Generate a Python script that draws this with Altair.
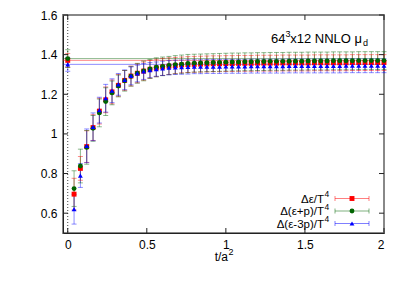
import altair as alt
import pandas as pd

# flow time t/a^2
t = [0.00, 0.04, 0.08, 0.12, 0.16, 0.20, 0.24, 0.28, 0.32, 0.36,
     0.40, 0.44, 0.48, 0.52, 0.56, 0.60, 0.64, 0.68, 0.72, 0.76,
     0.80, 0.84, 0.88, 0.92, 0.96, 1.00, 1.04, 1.08, 1.12, 1.16,
     1.20, 1.24, 1.28, 1.32, 1.36, 1.40, 1.44, 1.48, 1.52, 1.56,
     1.60, 1.64, 1.68, 1.72, 1.76, 1.80, 1.84, 1.88, 1.92, 1.96, 2.00]

# Delta eps / T^4
eps = [1.371, 0.696, 0.826, 0.936, 1.032, 1.115, 1.172, 1.212, 1.245, 1.270,
       1.292, 1.306, 1.317, 1.326, 1.333, 1.338, 1.342, 1.345, 1.348, 1.350,
       1.351, 1.352, 1.353, 1.354, 1.354, 1.355, 1.355, 1.356, 1.356, 1.356,
       1.357, 1.357, 1.357, 1.357, 1.358, 1.358, 1.358, 1.358, 1.358, 1.359,
       1.359, 1.359, 1.359, 1.359, 1.359, 1.360, 1.360, 1.360, 1.360, 1.360, 1.360]
eps_err = [0.035, 0.080, 0.060, 0.080, 0.065, 0.065, 0.065, 0.060, 0.055, 0.050,
           0.050, 0.048, 0.046, 0.045, 0.044, 0.043, 0.042, 0.041, 0.040, 0.040,
           0.040, 0.040, 0.040, 0.040, 0.040, 0.040, 0.040, 0.040, 0.040, 0.040,
           0.040, 0.040, 0.040, 0.040, 0.040, 0.040, 0.040, 0.040, 0.040, 0.040,
           0.040, 0.040, 0.040, 0.040, 0.040, 0.040, 0.040, 0.040, 0.040, 0.040, 0.040]

# Delta (eps+p) / T^4
epp = [1.380, 0.724, 0.838, 0.932, 1.028, 1.106, 1.163, 1.207, 1.242, 1.268,
       1.291, 1.306, 1.318, 1.328, 1.336, 1.341, 1.345, 1.349, 1.352, 1.355,
       1.357, 1.358, 1.359, 1.360, 1.361, 1.362, 1.363, 1.363, 1.364, 1.364,
       1.365, 1.365, 1.366, 1.366, 1.366, 1.367, 1.367, 1.367, 1.368, 1.368,
       1.368, 1.368, 1.369, 1.369, 1.369, 1.369, 1.370, 1.370, 1.370, 1.370, 1.370]
epp_err = [0.045, 0.090, 0.085, 0.085, 0.065, 0.070, 0.070, 0.060, 0.055, 0.052,
           0.050, 0.050, 0.050, 0.048, 0.048, 0.047, 0.046, 0.046, 0.046, 0.046,
           0.045, 0.045, 0.045, 0.045, 0.045, 0.045, 0.045, 0.045, 0.045, 0.045,
           0.045, 0.045, 0.045, 0.045, 0.045, 0.045, 0.045, 0.045, 0.045, 0.045,
           0.045, 0.045, 0.045, 0.045, 0.045, 0.045, 0.045, 0.045, 0.045, 0.045, 0.045]

# Delta (eps-3p) / T^4
em3p = [1.351, 0.620, 0.790, 0.940, 1.036, 1.120, 1.180, 1.218, 1.250, 1.273,
        1.293, 1.305, 1.315, 1.322, 1.327, 1.331, 1.334, 1.336, 1.337, 1.338,
        1.339, 1.339, 1.340, 1.340, 1.340, 1.341, 1.341, 1.341, 1.341, 1.342,
        1.342, 1.342, 1.342, 1.342, 1.342, 1.343, 1.343, 1.343, 1.343, 1.343,
        1.343, 1.343, 1.343, 1.343, 1.344, 1.344, 1.344, 1.344, 1.344, 1.344, 1.344]
em3p_err = [0.035, 0.075, 0.060, 0.085, 0.070, 0.065, 0.070, 0.060, 0.055, 0.050,
            0.045, 0.042, 0.040, 0.038, 0.036, 0.036, 0.036, 0.036, 0.036, 0.036,
            0.035, 0.035, 0.035, 0.035, 0.035, 0.035, 0.035, 0.035, 0.035, 0.035,
            0.035, 0.035, 0.035, 0.035, 0.035, 0.035, 0.035, 0.035, 0.035, 0.035,
            0.035, 0.035, 0.035, 0.035, 0.035, 0.035, 0.035, 0.035, 0.035, 0.035, 0.035]

names = ["Δε/T⁴", "Δ(ε+p)/T⁴", "Δ(ε-3p)/T⁴"]
legend_base = ["Δε/T", "Δ(ε+p)/T", "Δ(ε-3p)/T"]
colors = ["#ff0000", "#006400", "#0000ff"]
shapes = ["square", "circle", "triangle-up"]
reference = [1.371, 1.380, 1.351]

x_ticks = [0, 0.5, 1, 1.5, 2]
y_ticks = [0.6, 0.8, 1.0, 1.2, 1.4, 1.6]

rows = []
for k, (vals, errs) in enumerate([(eps, eps_err), (epp, epp_err), (em3p, em3p_err)]):
    for ti, v, e in zip(t, vals, errs):
        rows.append({"series": names[k], "k": k, "t": ti, "v": v, "lo": v - e, "hi": v + e})
df = pd.DataFrame(rows)
ref_df = pd.DataFrame({"series": names, "c": reference})

W, H = 321, 218
xs = alt.Scale(domain=[-0.03, 2], nice=False, zero=False)
ys = alt.Scale(domain=[0.5, 1.6], nice=False, zero=False)
col = alt.Scale(domain=names, range=colors)
shp = alt.Scale(domain=names, range=shapes)

x_axis = alt.Axis(values=x_ticks, format=".1~f", grid=False, tickSize=0, labelPadding=6,
                  title=None, labelFontSize=12, domainColor="#222", labelColor="#000")
y_axis = alt.Axis(values=y_ticks, format=".1~f", grid=False, tickSize=0, labelPadding=6,
                  title=None, labelFontSize=12, domainColor="#222", labelColor="#000")

X = alt.X("t:Q", scale=xs, axis=x_axis)
C = alt.Color("series:N", scale=col, legend=None)


def txt(s, x, y, size, align="left", baseline="alphabetic"):
    return alt.Chart(pd.DataFrame({"s": [s]})).mark_text(
        align=align, baseline=baseline, fontSize=size, color="#000").encode(
        text="s:N", x=alt.value(x), y=alt.value(y))


refl = alt.Chart(ref_df).mark_rule(strokeWidth=1, opacity=0.45).encode(
    y=alt.Y("c:Q", scale=ys, axis=y_axis), color=C)

vline = alt.Chart(pd.DataFrame({"z": [0]})).mark_rule(
    strokeDash=[1, 2], color="#444", strokeWidth=1).encode(x=alt.X("z:Q", scale=xs, axis=x_axis))

err = alt.Chart(df).mark_rule(strokeWidth=1, opacity=0.45).encode(
    x=X, y=alt.Y("lo:Q", scale=ys, axis=y_axis), y2="hi:Q", color=C)
cap_lo = alt.Chart(df).mark_tick(size=5, thickness=1, orient="horizontal", opacity=0.45).encode(
    x=X, y=alt.Y("lo:Q", scale=ys), color=C)
cap_hi = alt.Chart(df).mark_tick(size=5, thickness=1, orient="horizontal", opacity=0.45).encode(
    x=X, y=alt.Y("hi:Q", scale=ys), color=C)
pts = alt.Chart(df).mark_point(filled=True, opacity=1, size=24).encode(
    x=X, y=alt.Y("v:Q", scale=ys), color=C,
    shape=alt.Shape("series:N", scale=shp, legend=None),
    order=alt.Order("k:Q"))

# inward ticks (gnuplot style, mirrored)
xt = pd.DataFrame({"xt": x_ticks})
yt = pd.DataFrame({"yt": y_ticks})
tk_b = alt.Chart(xt).mark_rule(color="#222").encode(x=alt.X("xt:Q", scale=xs), y=alt.value(H), y2=alt.value(H - 5))
tk_t = alt.Chart(xt).mark_rule(color="#222").encode(x=alt.X("xt:Q", scale=xs), y=alt.value(0), y2=alt.value(5))
tk_l = alt.Chart(yt).mark_rule(color="#222").encode(y=alt.Y("yt:Q", scale=ys), x=alt.value(0), x2=alt.value(5))
tk_r = alt.Chart(yt).mark_rule(color="#222").encode(y=alt.Y("yt:Q", scale=ys), x=alt.value(W), x2=alt.value(W - 5))

# x axis title t/a^2
xtitle = [txt("t/a", 165, 246, 12, align="right"), txt("2", 165.5, 240, 9)]

# annotation 64^3x12 NNLO mu_d
ann = [txt("x12 NNLO μ", 299, 28, 13, align="right"),
       txt("3", 227.5, 22, 9, align="right"),
       txt("64", 222.5, 28, 13, align="right"),
       txt("d", 300, 31, 9)]

# legend (label left of sample, gnuplot style)
leg_layers = []
for i, (nm, c, sh) in enumerate(zip(legend_base, colors, shapes)):
    ly = 183.5 + 12.5 * i
    one = pd.DataFrame({"s": [nm]})
    leg_layers.append(txt(nm, 261, ly + 4, 11.5, align="right"))
    leg_layers.append(txt("4", 261.5, ly - 1.5, 8.5))
    leg_layers.append(alt.Chart(one).mark_rule(color=c, opacity=0.5, strokeWidth=1)
                      .encode(x=alt.value(272), x2=alt.value(306), y=alt.value(ly)))
    leg_layers.append(alt.Chart(one).mark_rule(color=c, opacity=0.5, strokeWidth=1)
                      .encode(x=alt.value(272), y=alt.value(ly - 2.5), y2=alt.value(ly + 2.5)))
    leg_layers.append(alt.Chart(one).mark_rule(color=c, opacity=0.5, strokeWidth=1)
                      .encode(x=alt.value(306), y=alt.value(ly - 2.5), y2=alt.value(ly + 2.5)))
    leg_layers.append(alt.Chart(one).mark_point(shape=sh, filled=True, opacity=1, size=24, color=c)
                      .encode(x=alt.value(289), y=alt.value(ly)))

chart = alt.layer(refl, vline, err, cap_lo, cap_hi, pts, tk_b, tk_t, tk_l, tk_r,
                  *xtitle, *ann, *leg_layers).properties(
    width=W, height=H,
    autosize=alt.AutoSizeParams(type="none"),
    padding={"left": 55, "top": 7, "right": 17, "bottom": 53},
).configure(font="Liberation Sans").configure_view(stroke="#888", strokeWidth=2)

chart.save("out.html", embed_options={"renderer": "svg", "actions": False})
